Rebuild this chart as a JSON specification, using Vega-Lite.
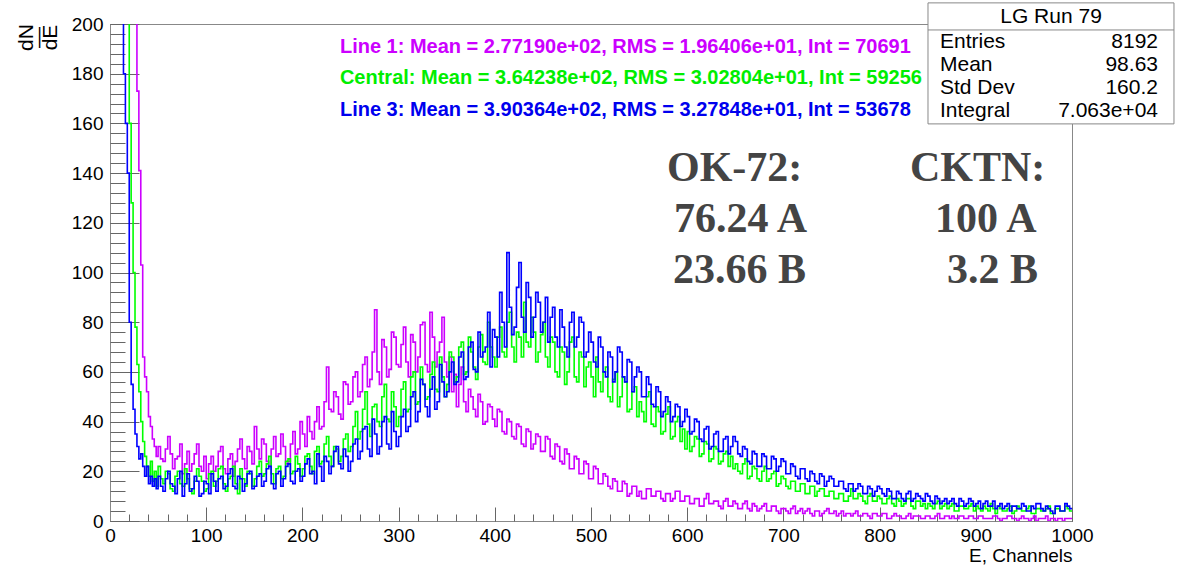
{
"$schema": "https://vega.github.io/schema/vega-lite/v6.json",
"width": 962, "height": 497,
"autosize": "none",
"padding": {"left": 110, "top": 24, "right": 112, "bottom": 46},
"background": "white",
"config": {
  "view": {"stroke": "#888888", "strokeWidth": 1},
  "font": "Liberation Sans",
  "axis": {"labelFont": "Liberation Sans", "titleFont": "Liberation Sans", "labelColor": "#000000", "titleColor": "#000000", "grid": false, "labelFlush": false, "labelOverlap": false, "labelBound": false, "domainColor": "#888888", "tickColor": "#666666", "titleFontWeight": "normal"}
},
"data": {"values": [
{"x":0,"m":300,"g":300,"b":300},
{"x":14,"m":300,"g":300,"b":180},
{"x":16,"m":300,"g":300,"b":160},
{"x":18,"m":300,"g":300,"b":140},
{"x":20,"m":300,"g":160,"b":80},
{"x":22,"m":300,"g":128,"b":55},
{"x":24,"m":300,"g":100,"b":45},
{"x":26,"m":300,"g":78,"b":35},
{"x":28,"m":173,"g":63,"b":30},
{"x":30,"m":141,"g":52,"b":25},
{"x":32,"m":103,"g":40,"b":27},
{"x":34,"m":66,"g":32,"b":22},
{"x":36,"m":58,"g":26,"b":18},
{"x":38,"m":52,"g":22,"b":22},
{"x":40,"m":42,"g":18,"b":15},
{"x":42,"m":38,"g":24,"b":18},
{"x":44,"m":33,"g":16,"b":14},
{"x":46,"m":30,"g":20,"b":17},
{"x":48,"m":26,"g":14,"b":13},
{"x":50,"m":30,"g":22,"b":18},{"x":52.5,"m":25,"g":17,"b":14},
{"x":55,"m":24,"g":15,"b":12},{"x":57.5,"m":29,"g":20,"b":17},
{"x":60,"m":34,"g":19,"b":20},{"x":62.5,"m":27,"g":13,"b":15},
{"x":65,"m":21,"g":12,"b":14},{"x":67.5,"m":25,"g":18,"b":11},
{"x":70,"m":26,"g":20,"b":17},{"x":72.5,"m":31,"g":15,"b":20},
{"x":75,"m":19,"g":14,"b":10},{"x":77.5,"m":23,"g":21,"b":15},
{"x":80,"m":28,"g":17,"b":19},{"x":82.5,"m":20,"g":13,"b":12},
{"x":85,"m":23,"g":11,"b":13},{"x":87.5,"m":27,"g":16,"b":18},
{"x":90,"m":31,"g":21,"b":16},{"x":92.5,"m":22,"g":18,"b":10},
{"x":95,"m":20,"g":16,"b":11},{"x":97.5,"m":26,"g":12,"b":16},
{"x":100,"m":17,"g":13,"b":15},{"x":102.5,"m":23,"g":19,"b":11},
{"x":105,"m":26,"g":20,"b":19},{"x":107.5,"m":20,"g":14,"b":16},
{"x":110,"m":22,"g":16,"b":12},{"x":112.5,"m":28,"g":21,"b":17},
{"x":115,"m":30,"g":22,"b":18},{"x":117.5,"m":21,"g":15,"b":13},
{"x":120,"m":19,"g":12,"b":14},{"x":122.5,"m":25,"g":17,"b":19},
{"x":125,"m":27,"g":18,"b":21},{"x":127.5,"m":18,"g":22,"b":14},
{"x":130,"m":24,"g":15,"b":13},{"x":132.5,"m":29,"g":11,"b":18},
{"x":135,"m":33,"g":21,"b":17},{"x":137.5,"m":25,"g":17,"b":12},
{"x":140,"m":21,"g":14,"b":15},{"x":142.5,"m":30,"g":20,"b":19},
{"x":145,"m":28,"g":19,"b":20},{"x":147.5,"m":23,"g":14,"b":13},
{"x":150,"m":38,"g":17,"b":14},{"x":152.5,"m":29,"g":22,"b":18},
{"x":155,"m":25,"g":24,"b":19},{"x":157.5,"m":33,"g":18,"b":14},
{"x":160,"m":31,"g":19,"b":16},{"x":162.5,"m":24,"g":23,"b":21},
{"x":165,"m":22,"g":26,"b":22},{"x":167.5,"m":29,"g":19,"b":15},
{"x":170,"m":34,"g":15,"b":13},{"x":172.5,"m":26,"g":21,"b":19},
{"x":175,"m":27,"g":22,"b":20},{"x":177.5,"m":35,"g":17,"b":14},
{"x":180,"m":30,"g":18,"b":17},{"x":182.5,"m":23,"g":24,"b":22},
{"x":185,"m":24,"g":25,"b":23},{"x":187.5,"m":31,"g":19,"b":16},
{"x":190,"m":36,"g":20,"b":15},{"x":192.5,"m":27,"g":26,"b":20},
{"x":195,"m":29,"g":23,"b":21},{"x":197.5,"m":40,"g":18,"b":16},
{"x":200,"m":35,"g":21,"b":18},{"x":202.5,"m":30,"g":26,"b":23},
{"x":205,"m":42,"g":27,"b":25},{"x":207.5,"m":36,"g":22,"b":19},
{"x":210,"m":33,"g":19,"b":20},{"x":212.5,"m":40,"g":28,"b":15},
{"x":215,"m":46,"g":30,"b":27},{"x":217.5,"m":37,"g":23,"b":22},
{"x":220,"m":38,"g":24,"b":16},{"x":222.5,"m":48,"g":31,"b":26},
{"x":225,"m":62,"g":34,"b":24},{"x":227.5,"m":45,"g":26,"b":19},
{"x":230,"m":44,"g":22,"b":22},{"x":232.5,"m":52,"g":30,"b":28},
{"x":235,"m":50,"g":29,"b":30},{"x":237.5,"m":43,"g":24,"b":23},
{"x":240,"m":41,"g":26,"b":21},{"x":242.5,"m":56,"g":33,"b":29},
{"x":245,"m":55,"g":35,"b":26},{"x":247.5,"m":47,"g":28,"b":20},
{"x":250,"m":48,"g":30,"b":24},{"x":252.5,"m":58,"g":38,"b":31},
{"x":255,"m":60,"g":44,"b":33},{"x":257.5,"m":50,"g":33,"b":25},
{"x":260,"m":52,"g":36,"b":28},{"x":262.5,"m":63,"g":45,"b":37},
{"x":265,"m":66,"g":52,"b":38},{"x":267.5,"m":54,"g":39,"b":29},
{"x":270,"m":57,"g":34,"b":26},{"x":272.5,"m":68,"g":46,"b":41},
{"x":275,"m":85,"g":47,"b":35},{"x":277.5,"m":60,"g":40,"b":27},
{"x":280,"m":55,"g":38,"b":30},{"x":282.5,"m":73,"g":50,"b":40},
{"x":285,"m":70,"g":55,"b":42},{"x":287.5,"m":58,"g":41,"b":31},
{"x":290,"m":61,"g":40,"b":29},{"x":292.5,"m":76,"g":52,"b":44},
{"x":295,"m":74,"g":46,"b":36},{"x":297.5,"m":63,"g":38,"b":30},
{"x":300,"m":62,"g":42,"b":34},{"x":302.5,"m":71,"g":53,"b":42},
{"x":305,"m":78,"g":56,"b":45},{"x":307.5,"m":64,"g":44,"b":36},
{"x":310,"m":58,"g":45,"b":38},{"x":312.5,"m":75,"g":58,"b":50},
{"x":315,"m":72,"g":60,"b":52},{"x":317.5,"m":60,"g":47,"b":40},
{"x":320,"m":66,"g":48,"b":44},{"x":322.5,"m":79,"g":62,"b":57},
{"x":325,"m":80,"g":55,"b":55},{"x":327.5,"m":63,"g":49,"b":46},
{"x":330,"m":60,"g":50,"b":42},{"x":332.5,"m":84,"g":59,"b":53},
{"x":335,"m":74,"g":64,"b":58},{"x":337.5,"m":62,"g":53,"b":45},
{"x":340,"m":68,"g":52,"b":48},{"x":342.5,"m":72,"g":66,"b":63},
{"x":345,"m":82,"g":58,"b":56},{"x":347.5,"m":64,"g":50,"b":50},
{"x":350,"m":58,"g":55,"b":52},{"x":352.5,"m":66,"g":68,"b":60},
{"x":355,"m":52,"g":66,"b":64},{"x":357.5,"m":59,"g":56,"b":55},
{"x":360,"m":46,"g":58,"b":56},{"x":362.5,"m":55,"g":70,"b":66},
{"x":365,"m":62,"g":72,"b":68},{"x":367.5,"m":48,"g":59,"b":57},
{"x":370,"m":44,"g":60,"b":58},{"x":372.5,"m":53,"g":74,"b":70},
{"x":375,"m":50,"g":68,"b":72},{"x":377.5,"m":45,"g":62,"b":61},
{"x":380,"m":42,"g":57,"b":60},{"x":382.5,"m":51,"g":70,"b":76},
{"x":385,"m":48,"g":75,"b":66},{"x":387.5,"m":39,"g":64,"b":68},
{"x":390,"m":40,"g":63,"b":70},{"x":392.5,"m":47,"g":80,"b":84},
{"x":395,"m":46,"g":70,"b":62},{"x":397.5,"m":41,"g":66,"b":77},
{"x":400,"m":38,"g":62,"b":74},{"x":402.5,"m":45,"g":74,"b":66},
{"x":405,"m":44,"g":78,"b":92},{"x":407.5,"m":36,"g":68,"b":80},
{"x":410,"m":35,"g":66,"b":70},{"x":412.5,"m":41,"g":80,"b":108},
{"x":415,"m":40,"g":84,"b":86},{"x":417.5,"m":34,"g":70,"b":75},
{"x":420,"m":33,"g":64,"b":78},{"x":422.5,"m":39,"g":76,"b":94},
{"x":425,"m":38,"g":74,"b":104},{"x":427.5,"m":31,"g":66,"b":82},
{"x":430,"m":30,"g":88,"b":76},{"x":432.5,"m":37,"g":72,"b":96},
{"x":435,"m":36,"g":70,"b":90},{"x":437.5,"m":29,"g":82,"b":74},
{"x":440,"m":31,"g":76,"b":82},{"x":442.5,"m":35,"g":64,"b":92},
{"x":445,"m":34,"g":68,"b":88},{"x":447.5,"m":28,"g":75,"b":76},
{"x":450,"m":28,"g":80,"b":80},{"x":452.5,"m":34,"g":66,"b":90},
{"x":455,"m":33,"g":62,"b":72},{"x":457.5,"m":26,"g":74,"b":82},
{"x":460,"m":25,"g":72,"b":86},{"x":462.5,"m":31,"g":60,"b":74},
{"x":465,"m":30,"g":58,"b":70},{"x":467.5,"m":24,"g":70,"b":85},
{"x":470,"m":23,"g":68,"b":78},{"x":472.5,"m":29,"g":55,"b":70},
{"x":475,"m":27,"g":60,"b":66},{"x":477.5,"m":21,"g":72,"b":80},
{"x":480,"m":21,"g":74,"b":84},{"x":482.5,"m":26,"g":58,"b":70},
{"x":485,"m":25,"g":56,"b":74},{"x":487.5,"m":19,"g":68,"b":82},
{"x":490,"m":19,"g":66,"b":80},{"x":492.5,"m":24,"g":54,"b":66},
{"x":495,"m":23,"g":62,"b":68},{"x":497.5,"m":17,"g":64,"b":76},
{"x":500,"m":17,"g":58,"b":72},{"x":502.5,"m":22,"g":50,"b":64},
{"x":505,"m":21,"g":66,"b":62},{"x":507.5,"m":15,"g":56,"b":74},
{"x":510,"m":15,"g":52,"b":70},{"x":512.5,"m":19,"g":60,"b":60},
{"x":515,"m":18,"g":62,"b":58},{"x":517.5,"m":14,"g":50,"b":68},
{"x":520,"m":13,"g":48,"b":66},{"x":522.5,"m":17,"g":57,"b":56},
{"x":525,"m":16,"g":60,"b":60},{"x":527.5,"m":12,"g":46,"b":70},
{"x":530,"m":12,"g":50,"b":68},{"x":532.5,"m":16,"g":58,"b":58},
{"x":535,"m":15,"g":56,"b":56},{"x":537.5,"m":10,"g":44,"b":65},
{"x":540,"m":11,"g":45,"b":64},{"x":542.5,"m":14,"g":52,"b":52},
{"x":545,"m":14,"g":54,"b":58},{"x":547.5,"m":10,"g":42,"b":62},
{"x":550,"m":12,"g":48,"b":60},{"x":552.5,"m":9,"g":44,"b":50},
{"x":555,"m":9,"g":40,"b":50},{"x":557.5,"m":13,"g":50,"b":58},
{"x":560,"m":13,"g":52,"b":55},{"x":562.5,"m":10,"g":39,"b":47},
{"x":565,"m":10,"g":38,"b":46},{"x":567.5,"m":12,"g":46,"b":54},
{"x":570,"m":12,"g":44,"b":52},{"x":572.5,"m":9,"g":35,"b":42},
{"x":575,"m":8,"g":36,"b":44},{"x":577.5,"m":11,"g":43,"b":50},
{"x":580,"m":11,"g":46,"b":48},{"x":582.5,"m":8,"g":33,"b":40},
{"x":585,"m":9,"g":34,"b":42},{"x":587.5,"m":12,"g":40,"b":47},
{"x":590,"m":12,"g":42,"b":46},{"x":592.5,"m":8,"g":32,"b":38},
{"x":595,"m":8,"g":37,"b":40},{"x":597.5,"m":10,"g":29,"b":45},
{"x":600,"m":10,"g":36,"b":42},{"x":602.5,"m":7,"g":28,"b":35},
{"x":605,"m":7,"g":30,"b":36},{"x":607.5,"m":9,"g":34,"b":41},
{"x":610,"m":9,"g":33,"b":40},{"x":612.5,"m":6,"g":26,"b":33},
{"x":615,"m":6,"g":27,"b":32},{"x":617.5,"m":9,"g":32,"b":37},
{"x":620,"m":11,"g":31,"b":38},{"x":622.5,"m":7,"g":24,"b":29},
{"x":625,"m":7,"g":25,"b":30},{"x":627.5,"m":8,"g":30,"b":35},
{"x":630,"m":8,"g":29,"b":36},{"x":632.5,"m":6,"g":23,"b":28},
{"x":635,"m":5,"g":24,"b":28},{"x":637.5,"m":8,"g":27,"b":33},
{"x":640,"m":9,"g":28,"b":34},{"x":642.5,"m":6,"g":22,"b":27},
{"x":645,"m":6,"g":26,"b":30},{"x":647.5,"m":8,"g":21,"b":34},
{"x":650,"m":7,"g":23,"b":32},{"x":652.5,"m":5,"g":20,"b":27},
{"x":655,"m":5,"g":19,"b":26},{"x":657.5,"m":7,"g":23,"b":30},
{"x":660,"m":8,"g":25,"b":29},{"x":662.5,"m":5,"g":17,"b":24},
{"x":665,"m":4,"g":18,"b":23},{"x":667.5,"m":7,"g":22,"b":28},
{"x":670,"m":6,"g":21,"b":27},{"x":672.5,"m":4,"g":17,"b":22},
{"x":675,"m":5,"g":16,"b":22},{"x":677.5,"m":6,"g":20,"b":27},
{"x":680,"m":7,"g":22,"b":26},{"x":682.5,"m":4,"g":16,"b":21},
{"x":685,"m":4,"g":17,"b":21},{"x":687.5,"m":6,"g":19,"b":26},
{"x":690,"m":6,"g":20,"b":25},{"x":692.5,"m":4,"g":14,"b":20},
{"x":695,"m":3,"g":15,"b":22},{"x":697.5,"m":5,"g":18,"b":25},
{"x":700,"m":5,"g":17,"b":24},{"x":702.5,"m":4,"g":14,"b":19},
{"x":705,"m":3,"g":13,"b":19},{"x":707.5,"m":5,"g":16,"b":23},
{"x":710,"m":6,"g":16,"b":22},{"x":712.5,"m":3,"g":12,"b":18},
{"x":715,"m":4,"g":12,"b":17},{"x":717.5,"m":5,"g":15,"b":21},
{"x":720,"m":3,"g":15,"b":21},{"x":722.5,"m":4,"g":11,"b":17},
{"x":725,"m":5,"g":11,"b":16},{"x":727.5,"m":3,"g":14,"b":20},
{"x":730,"m":2,"g":14,"b":19},{"x":732.5,"m":4,"g":10,"b":16},
{"x":735,"m":4,"g":12,"b":15},{"x":737.5,"m":2,"g":13,"b":19},
{"x":740,"m":3,"g":13,"b":18},{"x":742.5,"m":4,"g":10,"b":14},
{"x":745,"m":5,"g":10,"b":16},{"x":747.5,"m":3,"g":12,"b":18},
{"x":750,"m":3,"g":12,"b":17},{"x":752.5,"m":4,"g":9,"b":14},
{"x":755,"m":2,"g":9,"b":14},{"x":757.5,"m":3,"g":11,"b":16},
{"x":760,"m":4,"g":11,"b":16},{"x":762.5,"m":2,"g":8,"b":13},
{"x":765,"m":3,"g":8,"b":12},{"x":767.5,"m":3,"g":10,"b":15},
{"x":770,"m":2,"g":13,"b":15},{"x":772.5,"m":3,"g":9,"b":12},
{"x":775,"m":4,"g":9,"b":13},{"x":777.5,"m":2,"g":11,"b":15},
{"x":780,"m":2,"g":10,"b":14},{"x":782.5,"m":3,"g":8,"b":11},
{"x":785,"m":3,"g":7,"b":11},{"x":787.5,"m":2,"g":10,"b":14},
{"x":790,"m":1,"g":11,"b":13},{"x":792.5,"m":3,"g":8,"b":10},
{"x":795,"m":3,"g":8,"b":12},{"x":797.5,"m":2,"g":10,"b":14},
{"x":800,"m":2,"g":9,"b":13},{"x":802.5,"m":3,"g":7,"b":11},
{"x":805,"m":3,"g":7,"b":10},{"x":807.5,"m":1,"g":9,"b":13},
{"x":810,"m":1,"g":10,"b":12},{"x":812.5,"m":2,"g":7,"b":9},
{"x":815,"m":3,"g":6,"b":9},{"x":817.5,"m":2,"g":9,"b":12},
{"x":820,"m":2,"g":8,"b":11},{"x":822.5,"m":1,"g":6,"b":9},
{"x":825,"m":1,"g":7,"b":8},{"x":827.5,"m":2,"g":9,"b":11},
{"x":830,"m":3,"g":9,"b":12},{"x":832.5,"m":1,"g":6,"b":8},
{"x":835,"m":2,"g":5,"b":9},{"x":837.5,"m":2,"g":8,"b":11},
{"x":840,"m":2,"g":8,"b":10},{"x":842.5,"m":1,"g":6,"b":9},
{"x":845,"m":1,"g":7,"b":8},{"x":847.5,"m":2,"g":5,"b":11},
{"x":850,"m":2,"g":7,"b":10},{"x":852.5,"m":1,"g":6,"b":8},
{"x":855,"m":1,"g":5,"b":7},{"x":857.5,"m":2,"g":7,"b":10},
{"x":860,"m":3,"g":8,"b":9},{"x":862.5,"m":1,"g":5,"b":7},
{"x":865,"m":1,"g":6,"b":8},{"x":867.5,"m":2,"g":7,"b":9},
{"x":870,"m":2,"g":5,"b":7},{"x":872.5,"m":1,"g":6,"b":8},
{"x":875,"m":2,"g":7,"b":9},{"x":877.5,"m":1,"g":4,"b":7},
{"x":880,"m":1,"g":4,"b":6},{"x":882.5,"m":2,"g":6,"b":9},
{"x":885,"m":2,"g":6,"b":8},{"x":887.5,"m":1,"g":5,"b":6},
{"x":890,"m":1,"g":5,"b":7},{"x":892.5,"m":2,"g":6,"b":9},
{"x":895,"m":2,"g":7,"b":8},{"x":897.5,"m":1,"g":4,"b":6},
{"x":900,"m":1,"g":6,"b":7},{"x":902.5,"m":2,"g":5,"b":8},
{"x":905,"m":2,"g":4,"b":5},{"x":907.5,"m":1,"g":6,"b":7},
{"x":910,"m":1,"g":5,"b":8},{"x":912.5,"m":1,"g":4,"b":6},
{"x":915,"m":1,"g":7,"b":6},{"x":917.5,"m":2,"g":5,"b":8},
{"x":920,"m":2,"g":3,"b":5},{"x":922.5,"m":1,"g":6,"b":6},
{"x":925,"m":0,"g":5,"b":7},{"x":927.5,"m":1,"g":4,"b":5},
{"x":930,"m":1,"g":4,"b":6},{"x":932.5,"m":2,"g":5,"b":7},
{"x":935,"m":2,"g":6,"b":4},{"x":937.5,"m":1,"g":3,"b":6},
{"x":940,"m":1,"g":4,"b":6},{"x":942.5,"m":0,"g":6,"b":5},
{"x":945,"m":1,"g":5,"b":5},{"x":947.5,"m":2,"g":4,"b":7},
{"x":950,"m":1,"g":4,"b":6},{"x":952.5,"m":1,"g":5,"b":4},
{"x":955,"m":0,"g":6,"b":4},{"x":957.5,"m":1,"g":3,"b":6},
{"x":960,"m":2,"g":3,"b":5},{"x":962.5,"m":0,"g":5,"b":7},
{"x":965,"m":1,"g":5,"b":7},{"x":967.5,"m":1,"g":4,"b":5},
{"x":970,"m":1,"g":4,"b":4},{"x":972.5,"m":2,"g":5,"b":6},
{"x":975,"m":0,"g":6,"b":5},{"x":977.5,"m":1,"g":3,"b":4},
{"x":980,"m":1,"g":3,"b":3},{"x":982.5,"m":0,"g":5,"b":6},
{"x":985,"m":1,"g":5,"b":6},{"x":987.5,"m":1,"g":4,"b":4},
{"x":990,"m":0,"g":4,"b":4},{"x":992.5,"m":1,"g":6,"b":7},
{"x":995,"m":1,"g":5,"b":6},{"x":997.5,"m":1,"g":4,"b":5},
{"x":1000,"m":1,"g":4,"b":5}
]},
"resolve": {"axis": {"x": "independent", "y": "independent"}},
"layer": [
  {"mark": {"type": "line", "interpolate": "step-after", "clip": true, "color": "#cc00ff", "strokeWidth": 1.6},
   "encoding": {
     "x": {"field": "x", "type": "quantitative", "scale": {"domain": [0, 1000], "nice": false, "zero": false},
       "axis": {"orient": "bottom", "values": [0,100,200,300,400,500,600,700,800,900,1000], "format": "d", "ticks": false, "labelFontSize": 19, "labelPadding": 5, "domain": true,
         "title": "E, Channels", "titleFontSize": 19, "titleAnchor": "end", "titleAlign": "right", "titleX": 962, "titleY": 34, "titleBaseline": "middle"}},
     "y": {"field": "m", "type": "quantitative", "scale": {"domain": [0, 200], "nice": false},
       "axis": {"orient": "left", "values": [0,20,40,60,80,100,120,140,160,180,200], "format": "d", "ticks": false, "labelFontSize": 19, "labelPadding": 7, "domain": true,
         "title": ["dN", "—", "dE"], "titleFontSize": 21, "titleAngle": 270, "titleAlign": "center", "titleBaseline": "middle", "titleX": -84, "titleY": 13, "titleLineHeight": 12}}
   }},
  {"mark": {"type": "line", "interpolate": "step-after", "clip": true, "color": "#00ff00", "strokeWidth": 1.6},
   "encoding": {
     "x": {"field": "x", "type": "quantitative", "scale": {"domain": [0, 1000], "nice": false, "zero": false}, "axis": null},
     "y": {"field": "g", "type": "quantitative", "scale": {"domain": [0, 200], "nice": false}, "axis": null}
   }},
  {"mark": {"type": "line", "interpolate": "step-after", "clip": true, "color": "#0000ff", "strokeWidth": 1.6},
   "encoding": {
     "x": {"field": "x", "type": "quantitative", "scale": {"domain": [0, 1000], "nice": false, "zero": false}, "axis": null},
     "y": {"field": "b", "type": "quantitative", "scale": {"domain": [0, 200], "nice": false}, "axis": null}
   }},
  {"mark": {"type": "line", "opacity": 0},
   "encoding": {
     "x": {"field": "x", "type": "quantitative", "scale": {"domain": [0, 1000], "nice": false, "zero": false},
       "axis": {"orient": "bottom", "values": [0,100,200,300,400,500,600,700,800,900,1000], "labels": false, "domain": false, "tickSize": -14, "title": null}},
     "y": {"field": "b", "type": "quantitative", "scale": {"domain": [0, 200], "nice": false},
       "axis": {"orient": "left", "values": [0,20,40,60,80,100,120,140,160,180,200], "labels": false, "domain": false, "tickSize": -29, "title": null}}
   }},
  {"mark": {"type": "line", "opacity": 0},
   "encoding": {
     "x": {"field": "x", "type": "quantitative", "scale": {"domain": [0, 1000], "nice": false, "zero": false},
       "axis": {"orient": "bottom", "values": [0,20,40,60,80,100,120,140,160,180,200,220,240,260,280,300,320,340,360,380,400,420,440,460,480,500,520,540,560,580,600,620,640,660,680,700,720,740,760,780,800,820,840,860,880,900,920,940,960,980,1000], "labels": false, "domain": false, "tickSize": -7, "title": null}},
     "y": {"field": "b", "type": "quantitative", "scale": {"domain": [0, 200], "nice": false},
       "axis": {"orient": "left", "values": [0,4,8,12,16,20,24,28,32,36,40,44,48,52,56,60,64,68,72,76,80,84,88,92,96,100,104,108,112,116,120,124,128,132,136,140,144,148,152,156,160,164,168,172,176,180,184,188,192,196,200], "labels": false, "domain": false, "tickSize": -15, "title": null}}
   }},
  {"data": {"values": [{}]},
   "mark": {"type": "text", "align": "left", "baseline": "middle", "fontSize": 20, "fontWeight": "bold", "color": "#cc00ff", "text": "Line 1: Mean = 2.77190e+02, RMS = 1.96406e+01, Int = 70691"},
   "encoding": {
     "x": {"datum": 239, "type": "quantitative", "scale": {"domain": [0, 1000], "nice": false, "zero": false}, "axis": null},
     "y": {"datum": 190.7, "type": "quantitative", "scale": {"domain": [0, 200], "nice": false}, "axis": null}
   }},
  {"data": {"values": [{}]},
   "mark": {"type": "text", "align": "left", "baseline": "middle", "fontSize": 20, "fontWeight": "bold", "color": "#00ee00", "text": "Central: Mean = 3.64238e+02, RMS = 3.02804e+01, Int = 59256"},
   "encoding": {
     "x": {"datum": 239, "type": "quantitative", "scale": {"domain": [0, 1000], "nice": false, "zero": false}, "axis": null},
     "y": {"datum": 178.3, "type": "quantitative", "scale": {"domain": [0, 200], "nice": false}, "axis": null}
   }},
  {"data": {"values": [{}]},
   "mark": {"type": "text", "align": "left", "baseline": "middle", "fontSize": 20, "fontWeight": "bold", "color": "#0000ee", "text": "Line 3: Mean = 3.90364e+02, RMS = 3.27848e+01, Int = 53678"},
   "encoding": {
     "x": {"datum": 239, "type": "quantitative", "scale": {"domain": [0, 1000], "nice": false, "zero": false}, "axis": null},
     "y": {"datum": 165.4, "type": "quantitative", "scale": {"domain": [0, 200], "nice": false}, "axis": null}
   }},
  {"data": {"values": [{}]},
   "mark": {"type": "rect", "fill": "white", "stroke": "#888888", "strokeWidth": 1, "clip": false},
   "encoding": {
     "x": {"datum": 850.3, "type": "quantitative", "scale": {"domain": [0, 1000], "nice": false, "zero": false}, "axis": null},
     "x2": {"datum": 1106},
     "y": {"datum": 208.5, "type": "quantitative", "scale": {"domain": [0, 200], "nice": false}, "axis": null},
     "y2": {"datum": 159.8}
   }},
  {"data": {"values": [{}]},
   "mark": {"type": "rule", "stroke": "#888888", "strokeWidth": 1},
   "encoding": {
     "x": {"datum": 850.3, "type": "quantitative", "scale": {"domain": [0, 1000], "nice": false, "zero": false}, "axis": null},
     "x2": {"datum": 1106},
     "y": {"datum": 197.6, "type": "quantitative", "scale": {"domain": [0, 200], "nice": false}, "axis": null}
   }},
  {"data": {"values": [{}]},
   "mark": {"type": "text", "align": "center", "baseline": "middle", "fontSize": 21, "color": "#000000", "text": "LG Run 79"},
   "encoding": {
     "x": {"datum": 978.2, "type": "quantitative", "scale": {"domain": [0, 1000], "nice": false, "zero": false}, "axis": null},
     "y": {"datum": 202.8, "type": "quantitative", "scale": {"domain": [0, 200], "nice": false}, "axis": null}
   }},
  {"data": {"values": [{}]},
   "mark": {"type": "text", "align": "left", "baseline": "middle", "fontSize": 21, "lineHeight": 23, "color": "#000000", "text": ["Entries", "Mean", "Std Dev", "Integral"]},
   "encoding": {
     "x": {"datum": 862.8, "type": "quantitative", "scale": {"domain": [0, 1000], "nice": false, "zero": false}, "axis": null},
     "y": {"datum": 192.8, "type": "quantitative", "scale": {"domain": [0, 200], "nice": false}, "axis": null}
   }},
  {"data": {"values": [{}]},
   "mark": {"type": "text", "align": "right", "baseline": "middle", "fontSize": 21, "lineHeight": 23, "color": "#000000", "text": ["8192", "98.63", "160.2", "7.063e+04"]},
   "encoding": {
     "x": {"datum": 1089.4, "type": "quantitative", "scale": {"domain": [0, 1000], "nice": false, "zero": false}, "axis": null},
     "y": {"datum": 192.8, "type": "quantitative", "scale": {"domain": [0, 200], "nice": false}, "axis": null}
   }},
  {"data": {"values": [{}]},
   "mark": {"type": "text", "align": "left", "baseline": "alphabetic", "font": "Liberation Serif", "fontSize": 42, "fontWeight": "bold", "color": "#444444", "text": "OK-72:"},
   "encoding": {
     "x": {"datum": 579, "type": "quantitative", "scale": {"domain": [0, 1000], "nice": false, "zero": false}, "axis": null},
     "y": {"datum": 136.8, "type": "quantitative", "scale": {"domain": [0, 200], "nice": false}, "axis": null}
   }},
  {"data": {"values": [{}]},
   "mark": {"type": "text", "align": "left", "baseline": "alphabetic", "font": "Liberation Serif", "fontSize": 42, "fontWeight": "bold", "color": "#444444", "text": "76.24 A"},
   "encoding": {
     "x": {"datum": 586.3, "type": "quantitative", "scale": {"domain": [0, 1000], "nice": false, "zero": false}, "axis": null},
     "y": {"datum": 116.3, "type": "quantitative", "scale": {"domain": [0, 200], "nice": false}, "axis": null}
   }},
  {"data": {"values": [{}]},
   "mark": {"type": "text", "align": "left", "baseline": "alphabetic", "font": "Liberation Serif", "fontSize": 42, "fontWeight": "bold", "color": "#444444", "text": "23.66 B"},
   "encoding": {
     "x": {"datum": 585.2, "type": "quantitative", "scale": {"domain": [0, 1000], "nice": false, "zero": false}, "axis": null},
     "y": {"datum": 95.8, "type": "quantitative", "scale": {"domain": [0, 200], "nice": false}, "axis": null}
   }},
  {"data": {"values": [{}]},
   "mark": {"type": "text", "align": "left", "baseline": "alphabetic", "font": "Liberation Serif", "fontSize": 42, "fontWeight": "bold", "color": "#444444", "text": "CKTN:"},
   "encoding": {
     "x": {"datum": 831.6, "type": "quantitative", "scale": {"domain": [0, 1000], "nice": false, "zero": false}, "axis": null},
     "y": {"datum": 136.8, "type": "quantitative", "scale": {"domain": [0, 200], "nice": false}, "axis": null}
   }},
  {"data": {"values": [{}]},
   "mark": {"type": "text", "align": "left", "baseline": "alphabetic", "font": "Liberation Serif", "fontSize": 42, "fontWeight": "bold", "color": "#444444", "text": "100 A"},
   "encoding": {
     "x": {"datum": 857.6, "type": "quantitative", "scale": {"domain": [0, 1000], "nice": false, "zero": false}, "axis": null},
     "y": {"datum": 116.3, "type": "quantitative", "scale": {"domain": [0, 200], "nice": false}, "axis": null}
   }},
  {"data": {"values": [{}]},
   "mark": {"type": "text", "align": "left", "baseline": "alphabetic", "font": "Liberation Serif", "fontSize": 42, "fontWeight": "bold", "color": "#444444", "text": "3.2 B"},
   "encoding": {
     "x": {"datum": 870.1, "type": "quantitative", "scale": {"domain": [0, 1000], "nice": false, "zero": false}, "axis": null},
     "y": {"datum": 95.8, "type": "quantitative", "scale": {"domain": [0, 200], "nice": false}, "axis": null}
   }}
]
}
